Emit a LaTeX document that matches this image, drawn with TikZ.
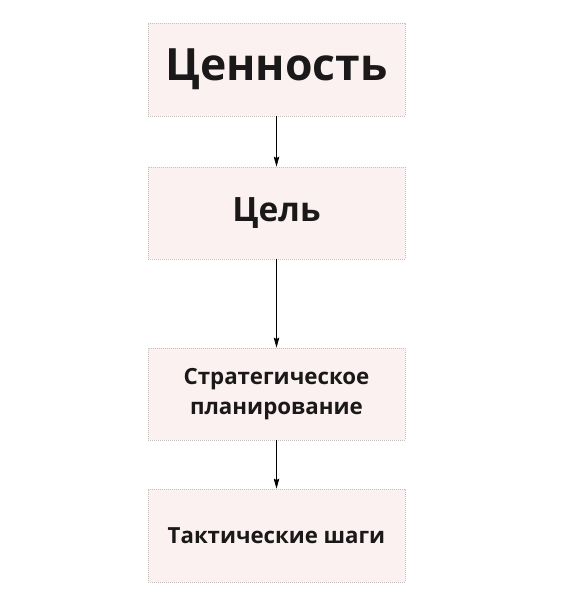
\documentclass[tikz,border=0pt]{standalone}
\usepackage{fontspec}
\setmainfont{Open Sans}
\usetikzlibrary{arrows.meta}
\definecolor{boxfill}{HTML}{FAF1F0}
\definecolor{boxline}{HTML}{C4BEBE}
\definecolor{txt}{HTML}{1A1818}
\tikzset{
  stepbox/.style={draw=boxline, fill=boxfill, line width=0.8pt,
    dash pattern=on 0.9pt off 1.1pt, minimum width=257pt, inner sep=0pt,
    text=txt, font=\bfseries, align=center},
  conn/.style={-{Stealth[length=10pt,width=5.5pt,inset=1.5pt]}, line width=0.7pt, black}
}
\begin{document}
\begin{tikzpicture}[x=1pt,y=-1pt]
\useasboundingbox (0,0) rectangle (588,600);
\node[stepbox, minimum height=93pt, font=\bfseries\fontsize{44.5}{50}\selectfont] (a) at (276.5,69.5) {Ценность};
\node[stepbox, minimum height=92pt, font=\bfseries\fontsize{33.5}{36}\selectfont] (b) at (276.5,213) {Цель};
\node[stepbox, minimum height=92pt, font=\bfseries\fontsize{22.3}{30}\selectfont] (c) at (276.5,394) {Стратегическое\\планирование};
\node[stepbox, minimum height=93pt, font=\bfseries\fontsize{22.2}{26}\selectfont] (d) at (276.5,535.5) {Тактические шаги};
\draw[conn] (a.south) -- (b.north);
\draw[conn] (b.south) -- (c.north);
\draw[conn] (c.south) -- (d.north);
\end{tikzpicture}
\end{document}
